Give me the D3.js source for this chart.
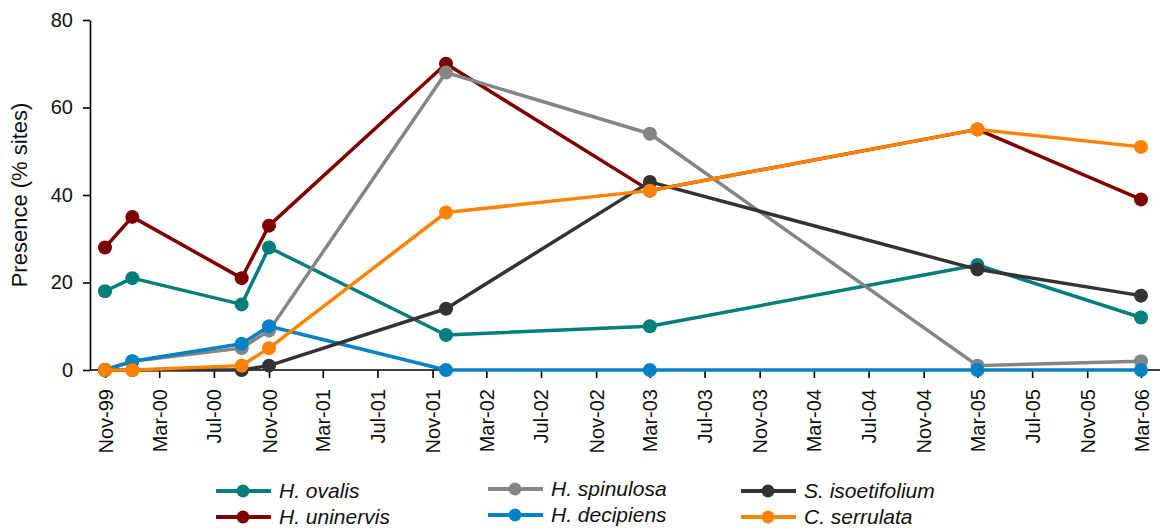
<!DOCTYPE html>
<html>
<head>
<meta charset="utf-8">
<script src="https://cdn.jsdelivr.net/npm/d3@7"></script>
<style>
  body { margin: 0; background: #fff; }
  text { font-family: Arial, "Liberation Sans", sans-serif; }
</style>
</head>
<body>
<svg id="chart"></svg>
<script>
// survey dates and % of sites where each species was present
const surveys = ["Nov-99", "Jan-00", "Sep-00", "Nov-00", "Dec-01", "Mar-03", "Mar-05", "Mar-06"];
const hOvalis      = [18, 21, 15, 28, 8, 10, 24, 12];
const hUninervis   = [28, 35, 21, 33, 70, 41, 55, 39];
const hSpinulosa   = [0, 2, 5, 9, 68, 54, 1, 2];
const hDecipiens   = [0, 2, 6, 10, 0, 0, 0, 0];
const sIsoetifolium = [0, 0, 0, 1, 14, 43, 23, 17];
const cSerrulata   = [0, 0, 1, 5, 36, 41, 55, 51];

const xTickLabels = ["Nov-99", "Mar-00", "Jul-00", "Nov-00", "Mar-01", "Jul-01", "Nov-01", "Mar-02",
    "Jul-02", "Nov-02", "Mar-03", "Jul-03", "Nov-03", "Mar-04", "Jul-04", "Nov-04",
    "Mar-05", "Jul-05", "Nov-05", "Mar-06"];
const yTicks = [0, 20, 40, 60, 80];

const seriesNames = ["H. ovalis", "H. uninervis", "H. spinulosa", "H. decipiens", "S. isoetifolium", "C. serrulata"];
const seriesValues = [hOvalis, hUninervis, hSpinulosa, hDecipiens, sIsoetifolium, cSerrulata];
const seriesColors = ["#007f7b", "#7f0000", "#858585", "#0681c6", "#333333", "#ff8300"];

const W = 1165, H = 528;
const svg = d3.select("#chart").attr("width", W).attr("height", H);

const parse = d3.timeParse("%b-%y");
const dates = surveys.map(parse);
const tickDates = xTickLabels.map(parse);

const axisLeftX = 90, axisRightX = 1160;
const x = d3.scaleTime()
    .domain([tickDates[0], tickDates[tickDates.length - 1]])
    .range([105, 1141]);
const y = d3.scaleLinear().domain([0, 80]).range([370, 20]);

// Y axis
const yAxis = svg.append("g")
    .attr("transform", `translate(${axisLeftX},0)`)
    .call(d3.axisLeft(y).tickValues(yTicks).tickSize(7).tickPadding(10).tickSizeOuter(0));
yAxis.select(".domain").attr("stroke-width", 1.6);
yAxis.selectAll(".tick line").attr("stroke-width", 1.6);
yAxis.selectAll("text").attr("font-size", "20px").attr("fill", "#111");

svg.append("text")
    .attr("transform", `translate(27,${y(40)}) rotate(-90)`)
    .attr("text-anchor", "middle")
    .attr("font-size", "22px")
    .attr("fill", "#111")
    .text("Presence (% sites)");

// X axis
const xAxis = svg.append("g")
    .attr("transform", `translate(0,${y(0)})`)
    .call(d3.axisBottom(x).tickValues(tickDates).tickFormat(d3.timeFormat("%b-%y"))
        .tickSize(8).tickPadding(10).tickSizeOuter(0));
xAxis.select(".domain").attr("d", `M${axisLeftX},0H${axisRightX}`).attr("stroke-width", 1.6);
xAxis.selectAll(".tick line").attr("stroke-width", 1.6);
xAxis.selectAll("text")
    .attr("font-size", "20px")
    .attr("fill", "#111")
    .attr("text-anchor", "end")
    .attr("dy", "0.35em")
    .attr("transform", "translate(0,19) rotate(-90)")
    .attr("x", 0)
    .attr("y", 0);

// series
const line = d3.line()
    .x((d, i) => x(dates[i]))
    .y(d => y(d));

seriesValues.forEach((vals, k) => {
    const g = svg.append("g");
    g.append("path")
        .datum(vals)
        .attr("fill", "none")
        .attr("stroke", seriesColors[k])
        .attr("stroke-width", 3.5)
        .attr("stroke-linejoin", "round")
        .attr("d", line);
    g.selectAll("circle")
        .data(vals)
        .enter()
        .append("circle")
        .attr("cx", (d, i) => x(dates[i]))
        .attr("cy", d => y(d))
        .attr("r", 7)
        .attr("fill", seriesColors[k]);
});

// legend, 3 columns of 2
const legendCols = [216, 488, 741];
const legendRows = [491, 517];
const legendColShift = [0, -2, 0];
seriesNames.forEach((name, k) => {
    const col = Math.floor(k / 2), row = k % 2;
    const g = svg.append("g")
        .attr("transform", `translate(${legendCols[col]},${legendRows[row] + legendColShift[col]})`);
    g.append("line")
        .attr("x1", 0).attr("x2", 55)
        .attr("stroke", seriesColors[k])
        .attr("stroke-width", 4);
    g.append("circle")
        .attr("cx", 27).attr("r", 6.5)
        .attr("fill", seriesColors[k]);
    g.append("text")
        .attr("x", 63)
        .attr("dy", "0.35em")
        .attr("font-size", "21px")
        .attr("font-style", "italic")
        .attr("fill", "#111")
        .text(name);
});
</script>
</body>
</html>
